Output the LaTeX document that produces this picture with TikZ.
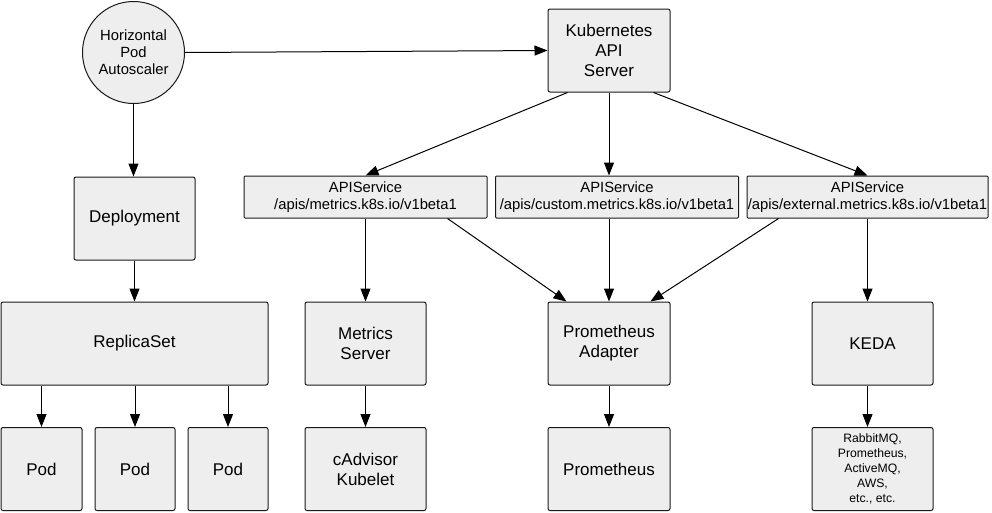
\documentclass[tikz,border=0pt]{standalone}
\usepackage{fontspec}
\setmainfont{Liberation Sans}
\usetikzlibrary{arrows.meta,calc}
\definecolor{boxfill}{HTML}{EEEEEE}
\definecolor{boxline}{HTML}{1A1A1A}
\begin{document}
\begin{tikzpicture}[x=1pt,y=-1pt,
  base/.style={draw=boxline,fill=boxfill,line width=1pt,inner sep=0pt,align=center,text=black},
  bigbox/.style={base,rounded corners=2pt,font=\fontsize{17}{20}\selectfont},
  apibox/.style={base,rounded corners=1pt,font=\fontsize{14.8}{17}\selectfont},
  circ/.style={base,circle,font=\fontsize{14.8}{17}\selectfont},
  smallbox/.style={base,rounded corners=2pt,font=\fontsize{12.2}{15}\selectfont},
  arr/.style={line width=1pt,draw=black,-{Triangle[length=13pt,width=10pt]}}]
\useasboundingbox (0,0) rectangle (992,512);

\node[circ,minimum size=102pt] (hpa) at (133.5,52.5) {Horizontal\\Pod\\Autoscaler};
\node[bigbox,minimum width=122pt,minimum height=83pt] (k8s) at (609,50.5) {Kubernetes\\API\\Server};
\node[bigbox,minimum width=121pt,minimum height=83pt] (dep) at (134.5,218.5) {Deployment};

\node[apibox,minimum width=243pt,minimum height=42pt] (as1) at (365.5,197) {APIService\\/apis/metrics.k8s.io/v1beta1};
\node[apibox,minimum width=243pt,minimum height=42pt] (as2) at (617,197) {APIService\\/apis/custom.metrics.k8s.io/v1beta1};
\node[apibox,minimum width=241pt,minimum height=42pt] (as3) at (867.5,197) {APIService\\/apis/external.metrics.k8s.io/v1beta1};

\node[bigbox,minimum width=267pt,minimum height=83pt] (rs) at (134.5,343.5) {ReplicaSet};
\node[bigbox,minimum width=121pt,minimum height=83pt] (ms) at (365.5,343.5) {Metrics\\Server};
\node[bigbox,minimum width=122pt,minimum height=83pt] (pa) at (609,343.5) {Prometheus\\Adapter};
\node[bigbox,minimum width=121pt,minimum height=83pt] (keda) at (872.5,343.5) {KEDA};

\node[bigbox,minimum width=81pt,minimum height=83pt] (pod1) at (41.5,469) {Pod};
\node[bigbox,minimum width=80pt,minimum height=83pt] (pod2) at (135,469) {Pod};
\node[bigbox,minimum width=80pt,minimum height=83pt] (pod3) at (228,469) {Pod};
\node[bigbox,minimum width=121pt,minimum height=83pt] (cad) at (365.5,469) {cAdvisor\\Kubelet};
\node[bigbox,minimum width=122pt,minimum height=83pt] (prom) at (609,469) {Prometheus};
\node[smallbox,minimum width=121pt,minimum height=83pt] (rb) at (872.5,469) {RabbitMQ,\\Prometheus,\\ActiveMQ,\\AWS,\\etc., etc.};

% connectors
\draw[arr] (hpa.east) -- (k8s.west);
\draw[arr] (hpa.south) -- (hpa.south |- dep.north);
\draw[arr] (dep.south) -- (dep.south |- rs.north);
\draw[arr] (pod1.north |- rs.south) -- (pod1.north);
\draw[arr] (pod2.north |- rs.south) -- (pod2.north);
\draw[arr] (pod3.north |- rs.south) -- (pod3.north);

\draw[arr] ([xshift=20pt]k8s.south west) -- (as1.north);
\draw[arr] (k8s.south) -- (k8s.south |- as2.north);
\draw[arr] ([xshift=-17pt]k8s.south east) -- (as3.north);

\draw[arr] (as1.south) -- (ms.north);
\draw[arr] ([xshift=-40pt]as1.south east) -- ([xshift=19pt]pa.north west);
\draw[arr] (pa.north |- as2.south) -- (pa.north);
\draw[arr] ([xshift=32pt]as3.south west) -- ([xshift=-20pt]pa.north east);
\draw[arr] (as3.south) -- (as3.south |- keda.north);

\draw[arr] (ms.south) -- (cad.north);
\draw[arr] (pa.south) -- (prom.north);
\draw[arr] (as3.south |- keda.south) -- (as3.south |- rb.north);
\end{tikzpicture}
\end{document}
